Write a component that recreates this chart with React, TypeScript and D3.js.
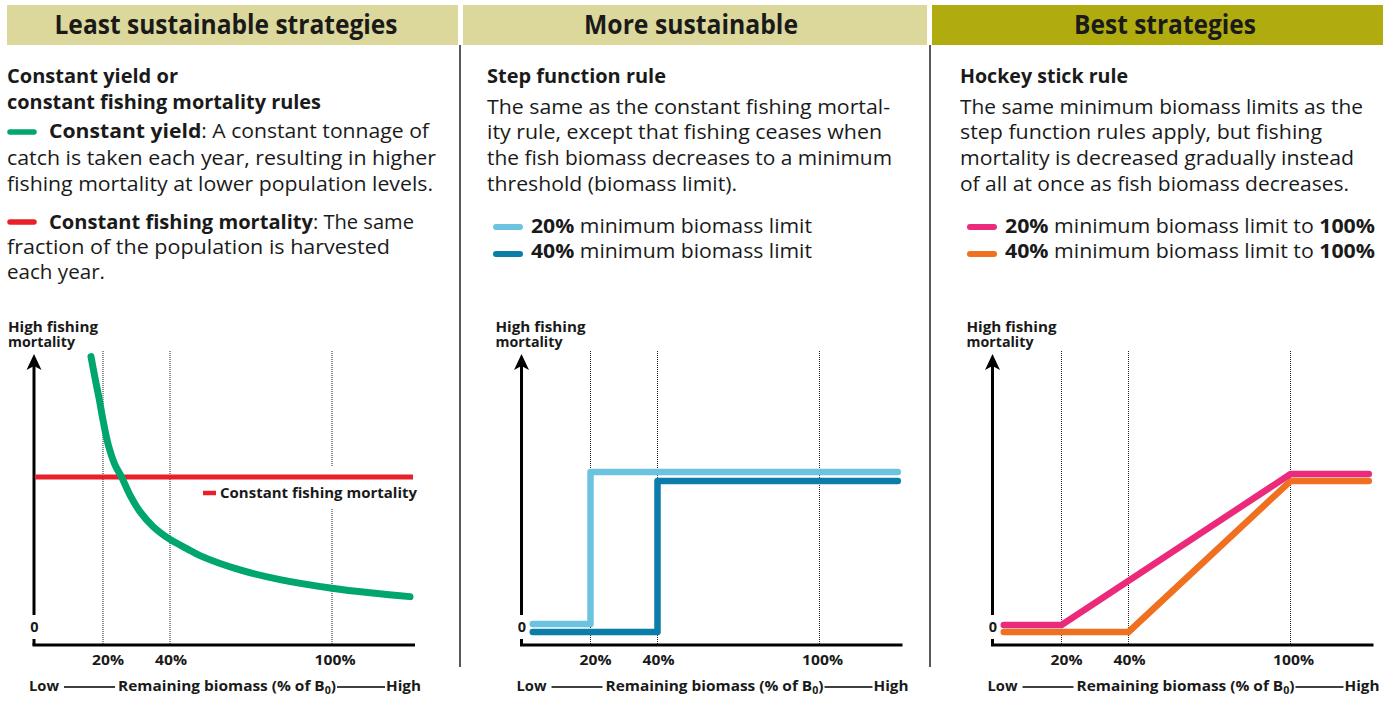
import React from "react";
import * as d3 from "d3";

// ---------- data ----------
const panelTitles = ["Least sustainable strategies", "More sustainable", "Best strategies"];
const xTickValues = [20, 40, 100];
const xTickLabels = ["20%", "40%", "100%"];

// Panel 1: constant yield (green) and constant fishing mortality (red)
const constantYieldX = [16.57, 17.71, 18.86, 20.09, 21.58, 23.58, 25.58, 28.06, 31.04, 35.01, 40, 46.19, 51.11, 65.93, 80.74, 100, 114.07, 128.89];
const constantYieldY = [1.02, 0.941, 0.867, 0.779, 0.693, 0.619, 0.573, 0.507, 0.446, 0.39, 0.343, 0.309, 0.283, 0.23, 0.194, 0.162, 0.145, 0.131];
const constantMortalityX = [0.6, 130];
const constantMortalityY = [0.574, 0.574];

// Panel 2: step function rules
const step20X = [3.5, 20, 20, 129];
const step20Y = [0.03, 0.03, 0.593, 0.593];
const step40X = [3.5, 40, 40, 129];
const step40Y = [0, 0, 0.559, 0.559];

// Panel 3: hockey stick rules
const hockey20X = [3.5, 20, 100, 129];
const hockey20Y = [0.026, 0.026, 0.585, 0.585];
const hockey40X = [3.5, 40, 100, 129];
const hockey40Y = [0, 0, 0.559, 0.559];

const colors = {
  green: "#00a66e",
  red: "#e8202a",
  lightBlue: "#6cc3df",
  darkBlue: "#0a7ea9",
  pink: "#ec2a7b",
  orange: "#f07022",
  headerLight: "#dcd89c",
  headerDark: "#b0ac0f",
  text: "#1a1a1a",
};

const FONT = "'Open Sans', 'Noto Sans', sans-serif";

type TP = {
  x: number;
  y: number;
  w?: number;
  size: number;
  bold?: boolean;
  anchor?: "start" | "middle" | "end";
  children: React.ReactNode;
};
const T = ({ x, y, w, size, bold, anchor, children }: TP) => (
  <text
    x={x}
    y={y}
    fontSize={size}
    fontWeight={bold ? 700 : 400}
    textAnchor={anchor || "start"}
    fill={colors.text}
    textLength={w}
    lengthAdjust={w ? "spacingAndGlyphs" : undefined}
  >
    {children}
  </text>
);

const zip = (xs: number[], ys: number[]) => xs.map((x, i) => [x, ys[i]] as [number, number]);

const x = d3.scaleLinear().domain([0, 20, 40, 130]).range([33, 103, 170, 413]);
const y = d3.scaleLinear().domain([0, 1]).range([632, 362]);
const line = d3.line<[number, number]>().x((d) => x(d[0])).y((d) => y(d[1]));
const curve = d3
  .line<[number, number]>()
  .x((d) => x(d[0]))
  .y((d) => y(d[1]))
  .curve(d3.curveCatmullRom.alpha(0.5));

const Axes = () => (
  <g>
    {xTickValues.map((v) => (
      <line key={v} x1={x(v)} x2={x(v)} y1={351} y2={645} stroke="#222" strokeWidth={1} strokeDasharray="1 1" />
    ))}
    {/* y axis with arrow */}
    <line x1={34} x2={34} y1={366} y2={615} stroke="#000" strokeWidth={3} />
    <path d="M34,354 L26.5,370 L34,366 L41.5,370 Z" fill="#000" />
    <line x1={34} x2={34} y1={639} y2={645} stroke="#000" strokeWidth={3} />
    <line x1={32.5} x2={415} y1={645} y2={645} stroke="#000" strokeWidth={3} />
    <T x={34.5} y={632} size={14.5} bold anchor="middle">0</T>
    {/* y label */}
    <T x={8} y={331.5} size={14} bold w={90}>High fishing</T>
    <T x={8} y={347} size={14} bold w={67}>mortality</T>
    {/* x ticks */}
    {xTickValues.map((v, i) => (
      <T key={v} x={x(v) + (i === 2 ? 3 : i === 0 ? 5 : 1)} y={665} size={14.5} bold anchor="middle" w={i === 2 ? 41 : 32}>
        {xTickLabels[i]}
      </T>
    ))}
    {/* x title */}
    <T x={29} y={691} size={14.5} bold w={30}>Low</T>
    <line x1={64} x2={115} y1={687} y2={687} stroke="#000" strokeWidth={1.5} />
    <text x={118} y={691} fontSize={14.5} fontWeight={700} fill={colors.text} textLength={218} lengthAdjust="spacingAndGlyphs">
      Remaining biomass (% of B<tspan fontSize={10} dy={3}>0</tspan>
      <tspan dy={-3}>)</tspan>
    </text>
    <line x1={337} x2={385} y1={687} y2={687} stroke="#000" strokeWidth={1.5} />
    <T x={386} y={691} size={14.5} bold w={35}>High</T>
  </g>
);

const Swatch = ({ x0, yy, color, w = 5.5 }: { x0: number; yy: number; color: string; w?: number }) => (
  <line x1={x0 + 3} x2={x0 + 27} y1={yy} y2={yy} stroke={color} strokeWidth={w} strokeLinecap="round" />
);

export default function App() {
  const offsets = [0, 487.5, 958.5];
  const bodySize = 19.5;
  return (
    <svg
      width={1392}
      height={710}
      style={{ position: "absolute", left: 0, top: 0, fontFamily: FONT, background: "#fff" }}
    >
      <rect x={0} y={0} width={1392} height={710} fill="#fff" />
      {/* headers */}
      <rect x={7} y={5} width={451} height={40} fill={colors.headerLight} />
      <rect x={463} y={5} width={464} height={40} fill={colors.headerLight} />
      <rect x={932} y={5} width={451} height={40} fill={colors.headerDark} />
      <T x={226} y={34} size={26} bold anchor="middle" w={343}>{panelTitles[0]}</T>
      <T x={691} y={34} size={26} bold anchor="middle" w={214}>{panelTitles[1]}</T>
      <T x={1165} y={34} size={26} bold anchor="middle" w={182}>{panelTitles[2]}</T>
      {/* separators */}
      <line x1={460} x2={460} y1={45} y2={667} stroke="#222" strokeWidth={1.5} />
      <line x1={930} x2={930} y1={45} y2={667} stroke="#222" strokeWidth={1.5} />

      {/* Panel 1 text */}
      <T x={7} y={83} size={bodySize} bold w={171}>Constant yield or</T>
      <T x={7} y={109} size={bodySize} bold w={314}>constant fishing mortality rules</T>
      <Swatch x0={7} yy={132} color={colors.green} />
      <text x={49} y={138} fontSize={bodySize} fill={colors.text} textLength={380} lengthAdjust="spacingAndGlyphs">
        <tspan fontWeight={700}>Constant yield</tspan>: A constant tonnage of
      </text>
      <T x={7} y={165} size={bodySize} w={429}>catch is taken each year, resulting in higher</T>
      <T x={7} y={191} size={bodySize} w={426}>fishing mortality at lower population levels.</T>
      <Swatch x0={7} yy={222} color={colors.red} />
      <text x={49} y={229} fontSize={bodySize} fill={colors.text} textLength={365} lengthAdjust="spacingAndGlyphs">
        <tspan fontWeight={700}>Constant fishing mortality</tspan>: The same
      </text>
      <T x={7} y={254} size={bodySize} w={383}>fraction of the population is harvested</T>
      <T x={7} y={279} size={bodySize} w={98}>each year.</T>

      {/* Panel 2 text */}
      <T x={487} y={83} size={bodySize} bold w={179}>Step function rule</T>
      <T x={487} y={114} size={bodySize} w={403}>The same as the constant fishing mortal-</T>
      <T x={487} y={139} size={bodySize} w={395}>ity rule, except that fishing ceases when</T>
      <T x={487} y={165} size={bodySize} w={405}>the fish biomass decreases to a minimum</T>
      <T x={487} y={191} size={bodySize} w={250}>threshold (biomass limit).</T>
      <Swatch x0={493} yy={227} color={colors.lightBlue} w={6} />
      <text x={531} y={233} fontSize={bodySize} fill={colors.text} textLength={281} lengthAdjust="spacingAndGlyphs">
        <tspan fontWeight={700}>20%</tspan> minimum biomass limit
      </text>
      <Swatch x0={493} yy={254} color={colors.darkBlue} w={6} />
      <text x={531} y={258} fontSize={bodySize} fill={colors.text} textLength={281} lengthAdjust="spacingAndGlyphs">
        <tspan fontWeight={700}>40%</tspan> minimum biomass limit
      </text>

      {/* Panel 3 text */}
      <T x={960} y={83} size={bodySize} bold w={168}>Hockey stick rule</T>
      <T x={960} y={114} size={bodySize} w={403}>The same minimum biomass limits as the</T>
      <T x={960} y={139} size={bodySize} w={362}>step function rules apply, but fishing</T>
      <T x={960} y={165} size={bodySize} w={394}>mortality is decreased gradually instead</T>
      <T x={960} y={191} size={bodySize} w={389}>of all at once as fish biomass decreases.</T>
      <Swatch x0={967} yy={227} color={colors.pink} w={6} />
      <text x={1005} y={233} fontSize={bodySize} fill={colors.text} textLength={370} lengthAdjust="spacingAndGlyphs">
        <tspan fontWeight={700}>20%</tspan> minimum biomass limit to <tspan fontWeight={700}>100%</tspan>
      </text>
      <Swatch x0={967} yy={254} color={colors.orange} w={6} />
      <text x={1005} y={258} fontSize={bodySize} fill={colors.text} textLength={370} lengthAdjust="spacingAndGlyphs">
        <tspan fontWeight={700}>40%</tspan> minimum biomass limit to <tspan fontWeight={700}>100%</tspan>
      </text>

      {/* Panel 1 chart */}
      <g transform={`translate(${offsets[0]},0)`}>
        <Axes />
        <rect x={200} y={466} width={220} height={43} fill="#fff" />
        <path d={line(zip(constantMortalityX, constantMortalityY)) || ""} fill="none" stroke={colors.red} strokeWidth={5} />
        <path
          d={curve(zip(constantYieldX, constantYieldY)) || ""}
          fill="none"
          stroke={colors.green}
          strokeWidth={7}
          strokeLinecap="round"
          strokeLinejoin="round"
        />
        <line x1={203} x2={216} y1={493} y2={493} stroke={colors.red} strokeWidth={4.5} />
        <T x={220} y={498} size={14.5} bold w={197}>Constant fishing mortality</T>
      </g>

      {/* Panel 2 chart */}
      <g transform={`translate(${offsets[1]},0)`}>
        <Axes />
        <path d={line(zip(step20X, step20Y)) || ""} fill="none" stroke={colors.lightBlue} strokeWidth={6.5} strokeLinecap="round" strokeLinejoin="round" />
        <path d={line(zip(step40X, step40Y)) || ""} fill="none" stroke={colors.darkBlue} strokeWidth={6.5} strokeLinecap="round" strokeLinejoin="round" />
      </g>

      {/* Panel 3 chart */}
      <g transform={`translate(${offsets[2]},0)`}>
        <Axes />
        <path d={line(zip(hockey40X, hockey40Y)) || ""} fill="none" stroke={colors.orange} strokeWidth={6.5} strokeLinecap="round" strokeLinejoin="round" />
        <path d={line(zip(hockey20X, hockey20Y)) || ""} fill="none" stroke={colors.pink} strokeWidth={6.5} strokeLinecap="round" strokeLinejoin="round" />
      </g>
    </svg>
  );
}
